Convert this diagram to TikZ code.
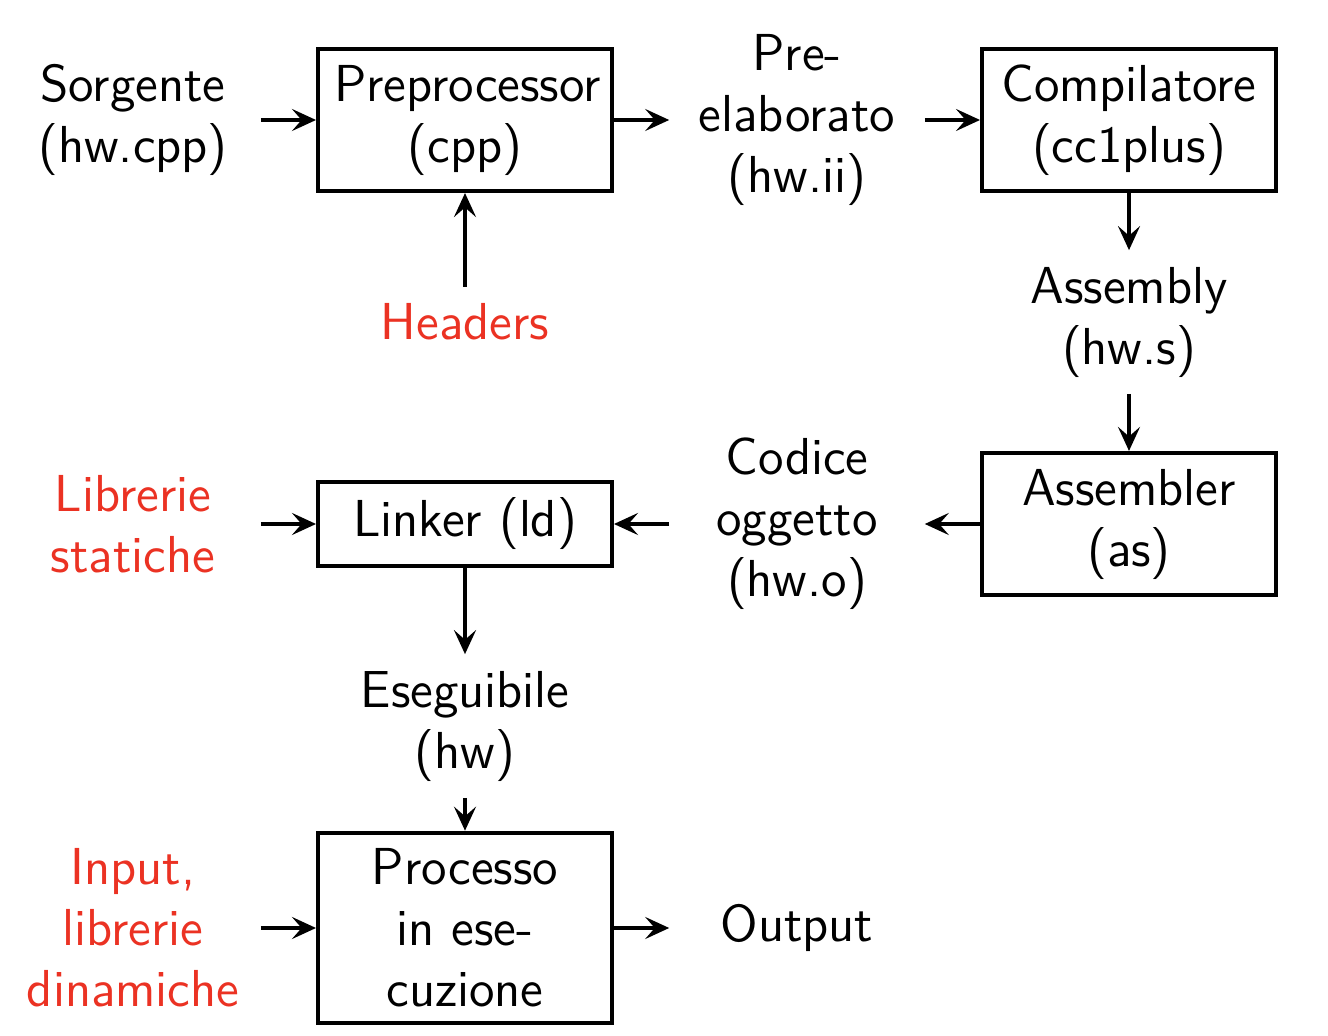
\documentclass[tikz,border=0pt]{standalone}
\usepackage{tikz}
\usetikzlibrary{arrows.meta}
\definecolor{labelred}{RGB}{235,50,35}

\begin{document}
\begin{tikzpicture}[x=83pt,y=-50.5pt,
	font=\sffamily\fontsize{13pt}{15.25pt}\selectfont,
	every node/.style={align=center,inner xsep=4pt,inner ysep=4pt},
	stadio/.style={draw,line width=1pt,text width=65.5pt},
	file/.style={text width=55.5pt},
	ext/.style={file,text=labelred},
	freccia/.style={line width=0.85pt,-{Stealth[length=6pt,width=5.5pt,inset=2.4pt]}}]
	\useasboundingbox (-33.25pt,30pt) rectangle (298.75pt,-229pt);

	\node[file](src) at (0,0) {Sorgente\\(hw.cpp)};
	\node[stadio](cpp) at (1,0) {Preprocessor\\(cpp)};
	\node[file](ii) at (2,0) {Pre-\\elaborato\\(hw.ii)};
	\node[stadio](cc) at (3,0) {Compilatore\\(cc1plus)};
	\node[ext](hdr) at (1,1) {Headers};
	\node[file](s) at (3,1) {Assembly\\(hw.s)};
	\node[ext](lib) at (0,2) {Librerie\\statiche};
	\node[stadio](ld) at (1,2) {Linker (ld)};
	\node[file](o) at (2,2) {Codice\\oggetto\\(hw.o)};
	\node[stadio](as) at (3,2) {Assembler\\(as)};
	\node[file](exe) at (1,3) {Eseguibile\\(hw)};
	\node[ext](dyn) at (0,4) {Input,\\librerie\\dinamiche};
	\node[stadio](run) at (1,4) {Processo\\in ese-\\cuzione};
	\node[file](out) at (2,4) {Output};

	\draw[freccia] (src) -- (cpp);
	\draw[freccia] (cpp) -- (ii);
	\draw[freccia] (ii) -- (cc);
	\draw[freccia] (hdr) -- (cpp);
	\draw[freccia] (cc) -- (s);
	\draw[freccia] (s) -- (as);
	\draw[freccia] (as) -- (o);
	\draw[freccia] (o) -- (ld);
	\draw[freccia] (lib) -- (ld);
	\draw[freccia] (ld) -- (exe);
	\draw[freccia] (exe) -- (run);
	\draw[freccia] (dyn) -- (run);
	\draw[freccia] (run) -- (out);
\end{tikzpicture}
\end{document}
